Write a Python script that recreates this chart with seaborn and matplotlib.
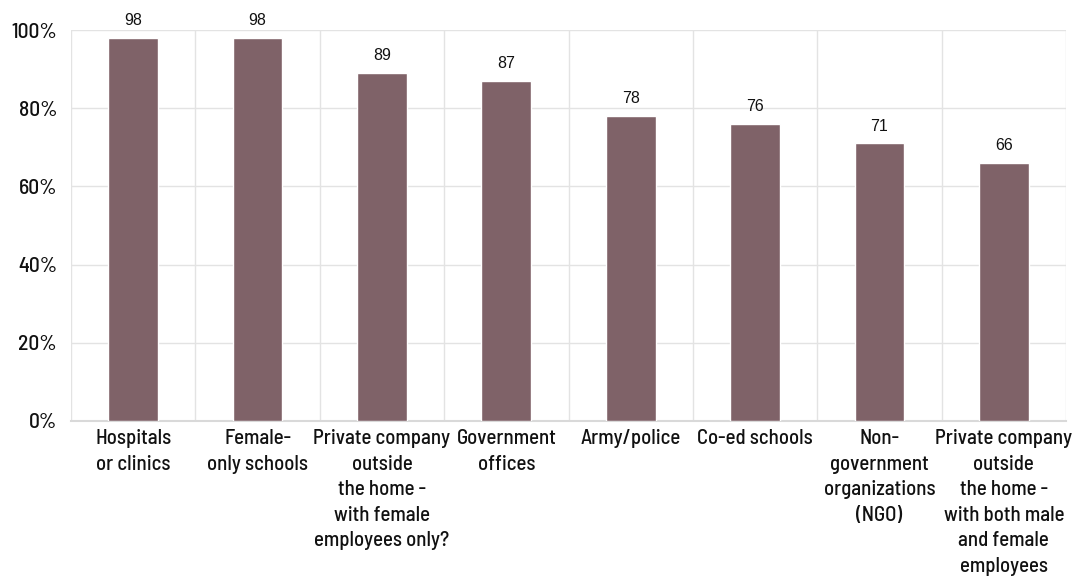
import matplotlib
matplotlib.use("Agg")
import matplotlib.pyplot as plt
import seaborn as sns
import pandas as pd

categories = [
    "Hospitals\nor clinics",
    "Female-\nonly schools",
    "Private company\noutside\nthe home -\nwith female\nemployees only?",
    "Government\noffices",
    "Army/police",
    "Co-ed schools",
    "Non-\ngovernment\norganizations\n(NGO)",
    "Private company\noutside\nthe home -\nwith both male\nand female\nemployees",
]
values = [98, 98, 89, 87, 78, 76, 71, 66]
y_ticks = [0, 20, 40, 60, 80, 100]
y_tick_labels = ["0%", "20%", "40%", "60%", "80%", "100%"]

sns.set_theme(style="white")
plt.rcParams["font.family"] = ["Barlow Semi Condensed", "DejaVu Sans"]
plt.rcParams["font.weight"] = "medium"

df = pd.DataFrame({"category": categories, "value": values})

fig = plt.figure(figsize=(10.74, 5.82), dpi=100)
ax = fig.add_axes([71 / 1074, 1 - 421 / 582, (1066 - 71) / 1074, (421 - 30) / 582])

sns.barplot(data=df, x="category", y="value", color="#7f6268", width=0.4,
            saturation=1, ax=ax, zorder=3)

ax.set_ylim(0, 100)
ax.set_xlim(-0.5, len(categories) - 0.5)
ax.set_yticks(y_ticks)
ax.set_yticklabels(y_tick_labels, fontsize=15.5, color="#111111", fontweight="medium")
ax.set_xticks(range(len(categories)))
ax.set_xticklabels(categories, fontsize=15, color="#111111", linespacing=1.43,
                   va="top", fontweight="medium")
ax.set_xlabel("")
ax.set_ylabel("")
ax.tick_params(axis="y", length=0, pad=10)
ax.tick_params(axis="x", length=0, pad=6)

# horizontal gridlines at each tick, vertical separators between categories
for t in y_ticks:
    ax.axhline(t, color="#e3e3e3", lw=1, zorder=0)
for i in range(len(categories) + 1):
    ax.axvline(i - 0.5, color="#e3e3e3", lw=1, zorder=0)

for s in ["top", "right", "left"]:
    ax.spines[s].set_visible(False)
ax.spines["bottom"].set_color("#d9d9d9")
ax.spines["bottom"].set_linewidth(1.5)

for i, v in enumerate(values):
    ax.text(i, v + 2.5, str(v), ha="center", va="bottom", fontsize=11.5,
            family=["Liberation Sans", "DejaVu Sans"], fontweight="normal",
            color="#111111")

fig.savefig("out.png", dpi=100, facecolor="white")
